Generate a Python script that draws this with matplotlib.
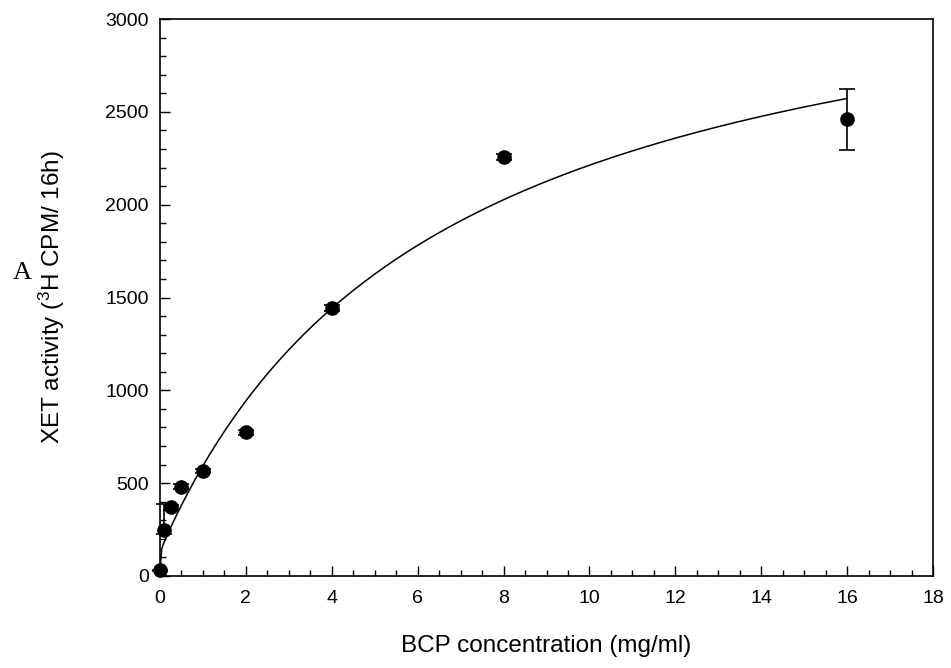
import numpy as np
import matplotlib
matplotlib.use("Agg")
import matplotlib.pyplot as plt
from matplotlib.ticker import MultipleLocator

plt.rcParams['font.family'] = ['Liberation Sans', 'DejaVu Sans']
plt.rcParams['mathtext.fontset'] = 'custom'
plt.rcParams['mathtext.rm'] = 'Liberation Sans'
plt.rcParams['mathtext.it'] = 'Liberation Sans'

# Data (BCP concentration mg/ml vs XET activity)
conc = [0, 0.1, 0.25, 0.5, 1, 2, 4, 8, 16]
activity = [30, 250, 370, 481, 565, 774, 1442, 2258, 2462]
err_low = [5, 25, 15, 15, 12, 15, 15, 15, 170]
err_high = [5, 140, 15, 15, 12, 15, 15, 15, 160]

# Fitted saturation-curve parameters
y0 = 25.0
v1, k1 = 113.0, 0.005
v2, k2 = 3423.0, 6.5
fit_xmax = 16.0

xticks = [0, 2, 4, 6, 8, 10, 12, 14, 16, 18]
yticks = [0, 500, 1000, 1500, 2000, 2500, 3000]

fig = plt.figure(figsize=(9.51, 6.68), dpi=100)
ax = fig.add_axes([160/951, 1-576/668, (933-160)/951, (576-19)/668])

xf = np.linspace(0, fit_xmax, 400)
yf = y0 + v1*xf/(k1+xf) + v2*xf/(k2+xf)
ax.plot(xf, yf, color='black', lw=1.1, zorder=2)

ax.errorbar(conc, activity, yerr=[err_low, err_high], fmt='o', color='black',
            ms=9.5, ecolor='black', elinewidth=1.2, capsize=6, capthick=1.2, zorder=3,
            clip_on=False)

ax.set_xlim(0, 18)
ax.set_ylim(0, 3000)
ax.set_xticks(xticks)
ax.set_yticks(yticks)
ax.xaxis.set_minor_locator(MultipleLocator(0.5))
ax.yaxis.set_minor_locator(MultipleLocator(100))
ax.tick_params(which='both', direction='in', top=False, right=False, width=1.0, labelsize=14)
ax.tick_params(axis='x', which='major', length=7, pad=10)
ax.tick_params(axis='y', which='major', length=7, pad=8)
ax.tick_params(which='minor', length=4)
for s in ax.spines.values():
    s.set_linewidth(1.2)

ax.set_xlabel('BCP concentration (mg/ml)', fontsize=17.5, labelpad=20)
ax.set_ylabel(r'XET activity ($^{3}$H CPM/ 16h)', fontsize=17.5)
ax.yaxis.set_label_coords(-0.12, 0.5)

fig.text(22/951, 1-273/668, 'A', family='Liberation Serif', fontsize=19,
         ha='center', va='center')

fig.savefig('out.png', dpi=100)
